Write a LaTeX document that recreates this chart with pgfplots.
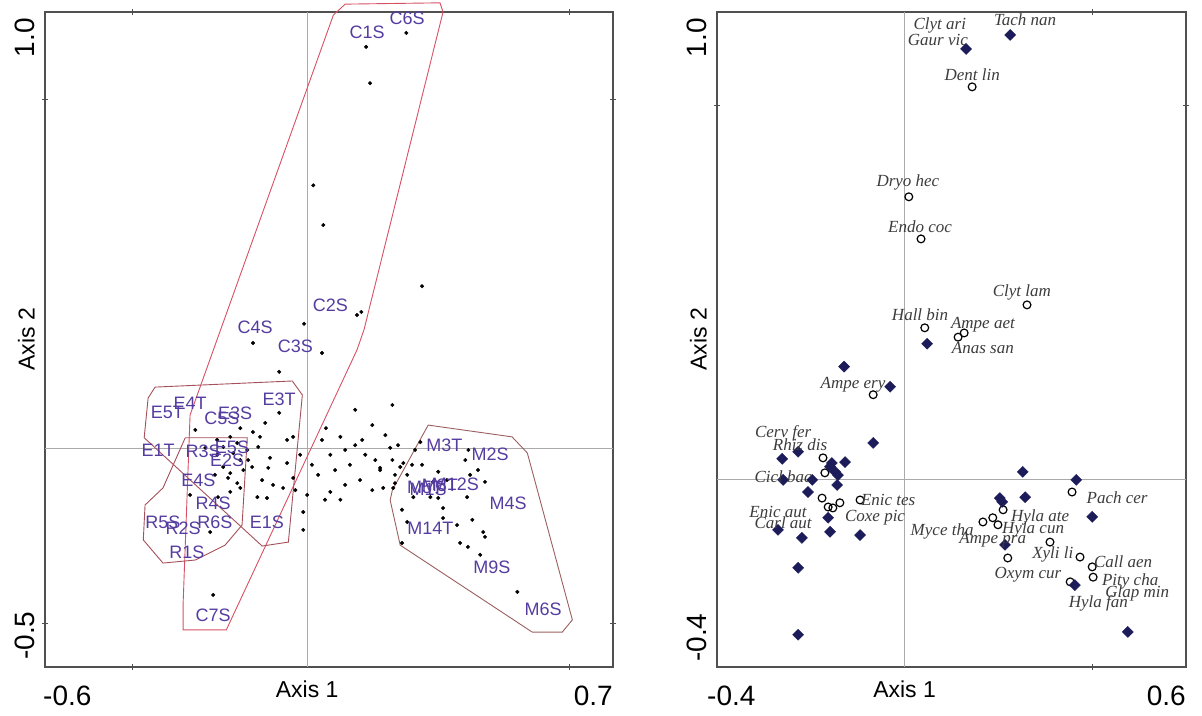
\documentclass[border=0pt]{standalone}
\usepackage{pgfplots}
\pgfplotsset{compat=1.18}
\usepackage{pgfplotstable}
\usepackage{fontspec}
\setmainfont{Liberation Sans}
\newfontfamily\tnr{Liberation Serif}
\definecolor{frame}{RGB}{80,80,80}
\definecolor{zero}{RGB}{170,170,170}
\definecolor{lab}{RGB}{85,60,160}
\definecolor{hullC}{RGB}{215,80,100}
\definecolor{hullE}{RGB}{165,80,90}
\definecolor{hullM}{RGB}{155,95,95}
\definecolor{navy}{RGB}{28,28,90}
\definecolor{slab}{RGB}{60,60,60}

\pgfplotstableread[col sep=comma]{
x,y
0.135,0.920
0.227,0.952
0.144,0.837
0.014,0.603
0.037,0.512
0.263,0.372
0.114,0.306
0.124,0.313
-0.007,0.286
-0.124,0.242
0.034,0.219
-0.064,0.176
-0.064,0.082
-0.096,0.059
-0.256,0.043
-0.153,0.047
-0.124,0.038
-0.108,0.027
-0.046,0.020
-0.032,0.027
-0.176,0.027
-0.160,0.013
-0.206,0.020
-0.137,-0.003
-0.153,-0.026
-0.135,-0.026
-0.126,-0.042
-0.192,-0.042
-0.176,-0.056
-0.085,-0.021
-0.089,-0.044
-0.046,-0.033
-0.016,-0.014
-0.032,-0.067
-0.078,-0.083
-0.055,-0.090
-0.027,-0.095
0.000,-0.106
-0.160,-0.079
-0.153,-0.090
-0.176,-0.099
-0.268,-0.106
-0.204,-0.111
-0.114,-0.111
-0.092,-0.113
-0.009,-0.145
-0.222,-0.191
-0.009,-0.186
-0.215,-0.335
-0.192,0.004
-0.206,-0.014
-0.146,-0.049
-0.169,-0.010
0.043,0.047
0.034,0.020
0.076,0.027
0.087,-0.003
0.053,-0.014
0.011,-0.037
0.025,-0.060
0.064,-0.049
0.098,-0.037
0.110,0.008
0.126,0.020
0.133,-0.014
0.156,-0.026
0.121,-0.072
0.087,-0.083
0.053,-0.099
0.041,-0.117
0.110,0.089
0.149,0.054
0.179,0.031
0.190,0.002
0.208,0.008
0.167,-0.049
0.201,-0.060
0.195,-0.026
0.149,-0.095
0.076,-0.117
0.195,0.100
0.259,0.015
0.247,-0.003
0.369,-0.003
0.362,-0.026
0.213,-0.042
0.220,-0.033
0.240,-0.037
0.263,-0.037
0.167,-0.044
0.174,-0.090
0.197,-0.090
0.201,-0.079
0.229,-0.060
0.300,-0.053
0.288,-0.076
0.320,-0.072
0.373,-0.060
0.391,-0.049
0.407,-0.076
0.366,-0.111
0.243,-0.111
0.282,-0.111
0.300,-0.113
0.311,-0.136
0.217,-0.140
0.229,-0.168
0.311,-0.159
0.343,-0.175
0.378,-0.163
0.403,-0.191
0.407,-0.202
0.350,-0.216
0.368,-0.225
0.217,-0.216
0.396,-0.243
0.481,-0.328
-0.233,0.002
-0.181,-0.067
-0.211,-0.060
-0.112,0.004
-0.103,-0.072
}\sites

\pgfplotstableread[col sep=comma]{
x,y,lab
0.137,0.953,C1S
0.229,0.985,C6S
0.053,0.329,C2S
-0.119,0.279,C4S
-0.027,0.235,C3S
-0.064,0.114,E3T
-0.268,0.105,E4T
-0.320,0.082,E5T
-0.195,0.070,C5S
-0.165,0.082,E3S
-0.341,-0.003,E1T
-0.238,-0.005,R3S
-0.172,0.004,E5S
-0.183,-0.026,E2S
-0.249,-0.072,E4S
-0.215,-0.125,R4S
-0.330,-0.168,R5S
-0.284,-0.182,R2S
-0.211,-0.168,R6S
-0.092,-0.168,E1S
-0.275,-0.237,R1S
-0.215,-0.381,C7S
0.314,0.008,M3T
0.419,-0.014,M2S
0.270,-0.088,M5T
0.277,-0.092,M1S
0.304,-0.083,M8T
0.339,-0.081,M12S
0.460,-0.124,M4S
0.282,-0.182,M14T
0.423,-0.271,M9S
0.540,-0.369,M6S
}\sitelabels

\pgfplotstableread[col sep=comma]{
x,y
0.225,0.951
0.131,0.921
0.048,0.291
-0.129,0.242
-0.031,0.199
-0.067,0.079
-0.227,0.060
-0.261,0.045
-0.127,0.038
-0.159,0.028
-0.148,0.017
-0.142,0.010
-0.155,0.036
-0.259,0.000
-0.197,0.000
-0.144,-0.011
-0.206,-0.026
-0.163,-0.081
-0.270,-0.107
-0.159,-0.111
-0.095,-0.118
-0.219,-0.124
-0.227,-0.188
-0.227,-0.331
0.252,0.017
0.366,0.000
0.203,-0.039
0.257,-0.037
0.208,-0.047
0.400,-0.079
0.214,-0.139
0.363,-0.225
0.476,-0.325
}\diamonds

\pgfplotstableread[col sep=comma]{
x,y
0.144,0.840
0.009,0.605
0.035,0.515
0.261,0.374
0.043,0.325
0.127,0.314
0.114,0.305
-0.067,0.182
-0.174,0.047
-0.170,0.015
-0.176,-0.039
-0.163,-0.058
-0.153,-0.060
-0.138,-0.049
-0.095,-0.043
0.357,-0.026
0.210,-0.064
0.188,-0.081
0.167,-0.090
0.199,-0.096
0.310,-0.133
0.220,-0.167
0.374,-0.165
0.400,-0.186
0.402,-0.208
0.353,-0.218
}\circles

\pgfplotstableread[col sep=comma]{
x,y,lab
0.075,0.972,Clyt ari
0.071,0.940,Gaur vic
0.257,0.983,Tach nan
0.144,0.866,Dent lin
0.007,0.635,Dryo hec
0.033,0.541,Endo coc
0.250,0.400,Clyt lam
0.033,0.353,Hall bin
0.167,0.331,Ampe aet
0.167,0.282,Anas san
-0.110,0.203,Ampe ery
-0.259,0.100,Cerv fer
-0.223,0.075,Rhiz dis
-0.259,0.006,Cicl bac
-0.035,-0.043,Enic tes
-0.270,-0.068,Enic aut
-0.259,-0.092,Carl aut
-0.063,-0.081,Coxe pic
0.453,-0.039,Pach cer
0.289,-0.081,Hyla ate
0.080,-0.111,Myce tha
0.274,-0.107,Hyla cun
0.188,-0.128,Ampe pra
0.316,-0.160,Xyli li
0.466,-0.175,Call aen
0.263,-0.203,Oxym cur
0.481,-0.218,Pity cha
0.496,-0.242,Glap min
0.413,-0.263,Hyla fan
}\speclabels

\pgfplotsset{
  ordframe/.style={
    scale only axis,
    height=655pt,
    axis line style={draw=frame, line width=1.5pt},
    tick style={draw=frame, line width=1pt},
    major tick length=6pt,
    tick align=center,
    xticklabels={}, yticklabels={},
    clip=false,
  },
  labplot/.style={
    only marks, mark=*, mark size=0pt, mark options={draw=none, fill=none},
    nodes near coords, point meta=explicit symbolic,
    nodes near coords style={anchor=center, inner sep=0pt},
  },
}

\begin{document}
\begin{tikzpicture}[x=1pt,y=1pt]
\useasboundingbox (0,0) rectangle (1202,715);
% ---------- left plot ----------
\begin{axis}[ordframe, at={(45pt,48pt)}, anchor=south west, width=568pt,
  xmin=-0.6, xmax=0.7, ymin=-0.5, ymax=1.0,
  xtick={-0.4,0.6}, ytick={-0.4,0.8}]
\addplot[zero, line width=0.8pt] coordinates {(0,-0.5) (0,1.0)};
\addplot[zero, line width=0.8pt] coordinates {(-0.6,0) (0.7,0)};
\addplot[hullC, line width=0.9pt] coordinates {(0.060,0.993) (0.087,1.018) (0.304,1.021) (0.311,1.000) (0.130,0.272) (0.114,0.226) (-0.185,-0.415) (-0.284,-0.415) (-0.284,-0.358) (-0.268,0.077) (0.060,0.993)};
\addplot[hullE, line width=0.9pt] coordinates {(-0.348,0.141) (-0.034,0.155) (-0.011,0.123) (-0.043,-0.214) (-0.103,-0.223) (-0.373,0.025) (-0.364,0.116) (-0.348,0.141)};
\addplot[hullE, line width=0.9pt] coordinates {(-0.279,0.025) (-0.137,0.025) (-0.149,-0.175) (-0.188,-0.221) (-0.256,-0.255) (-0.330,-0.262) (-0.375,-0.209) (-0.371,-0.129) (-0.330,-0.090) (-0.279,0.025)};
\addplot[hullM, line width=0.9pt] coordinates {(0.277,0.054) (0.469,0.027) (0.504,-0.010) (0.607,-0.392) (0.584,-0.420) (0.515,-0.420) (0.213,-0.221) (0.190,-0.118) (0.195,-0.095) (0.277,0.054)};
\addplot[only marks, mark=*, mark size=1.8pt, black] table[x=x,y=y] {\sites};
\addplot[labplot, nodes near coords style={text=lab, font=\fontsize{18}{18}\selectfont}] table[x=x,y=y,meta=lab] {\sitelabels};
\node[anchor=north west, inner sep=0pt, font=\fontsize{28}{28}\selectfont] at ([xshift=-2pt,yshift=-19pt]rel axis cs:0,0) {-0.6};
\node[anchor=north east, inner sep=0pt, font=\fontsize{28}{28}\selectfont] at ([yshift=-19pt]rel axis cs:1,0) {0.7};
\node[anchor=south east, rotate=90, inner sep=0pt, font=\fontsize{28}{28}\selectfont] at ([xshift=-10pt,yshift=-6pt]rel axis cs:0,1) {1.0};
\node[anchor=south west, rotate=90, inner sep=0pt, font=\fontsize{28}{28}\selectfont] at ([xshift=-10pt,yshift=7pt]rel axis cs:0,0) {-0.5};
\node[anchor=north, inner sep=0pt, font=\fontsize{23}{23}\selectfont] at ([yshift=-14pt]axis cs:0,-0.5) {Axis 1};
\node[anchor=south, rotate=90, inner sep=0pt, font=\fontsize{23}{23}\selectfont] at ([xshift=-10pt]rel axis cs:0,0.5) {Axis 2};
\end{axis}
% ---------- right plot ----------
\begin{axis}[ordframe, at={(717pt,48pt)}, anchor=south west, width=469pt,
  xmin=-0.4, xmax=0.6, ymin=-0.4, ymax=1.0,
  xtick={0.4}, ytick={0.8}]
\addplot[zero, line width=0.8pt] coordinates {(0,-0.4) (0,1.0)};
\addplot[zero, line width=0.8pt] coordinates {(-0.4,0) (0.6,0)};
\addplot[only marks, mark=o, mark size=3.9pt, mark options={line width=1.2pt, draw=black, fill=white}] table[x=x,y=y] {\circles};
\addplot[only marks, mark=square*, mark size=3.9pt, mark options={rotate=45, draw=navy, fill=navy}] table[x=x,y=y] {\diamonds};
\addplot[labplot, nodes near coords style={text=slab, font=\tnr\itshape\fontsize{17}{17}\selectfont}] table[x=x,y=y,meta=lab] {\speclabels};
\node[anchor=north west, inner sep=0pt, font=\fontsize{28}{28}\selectfont] at ([xshift=-10pt,yshift=-19pt]rel axis cs:0,0) {-0.4};
\node[anchor=north east, inner sep=0pt, font=\fontsize{28}{28}\selectfont] at ([yshift=-19pt]rel axis cs:1,0) {0.6};
\node[anchor=south east, rotate=90, inner sep=0pt, font=\fontsize{28}{28}\selectfont] at ([xshift=-10pt,yshift=-6pt]rel axis cs:0,1) {1.0};
\node[anchor=south west, rotate=90, inner sep=0pt, font=\fontsize{28}{28}\selectfont] at ([xshift=-10pt,yshift=5pt]rel axis cs:0,0) {-0.4};
\node[anchor=north, inner sep=0pt, font=\fontsize{23}{23}\selectfont] at ([yshift=-14pt]axis cs:0,-0.4) {Axis 1};
\node[anchor=south, rotate=90, inner sep=0pt, font=\fontsize{23}{23}\selectfont] at ([xshift=-10pt]rel axis cs:0,0.5) {Axis 2};
\end{axis}
\end{tikzpicture}
\end{document}
